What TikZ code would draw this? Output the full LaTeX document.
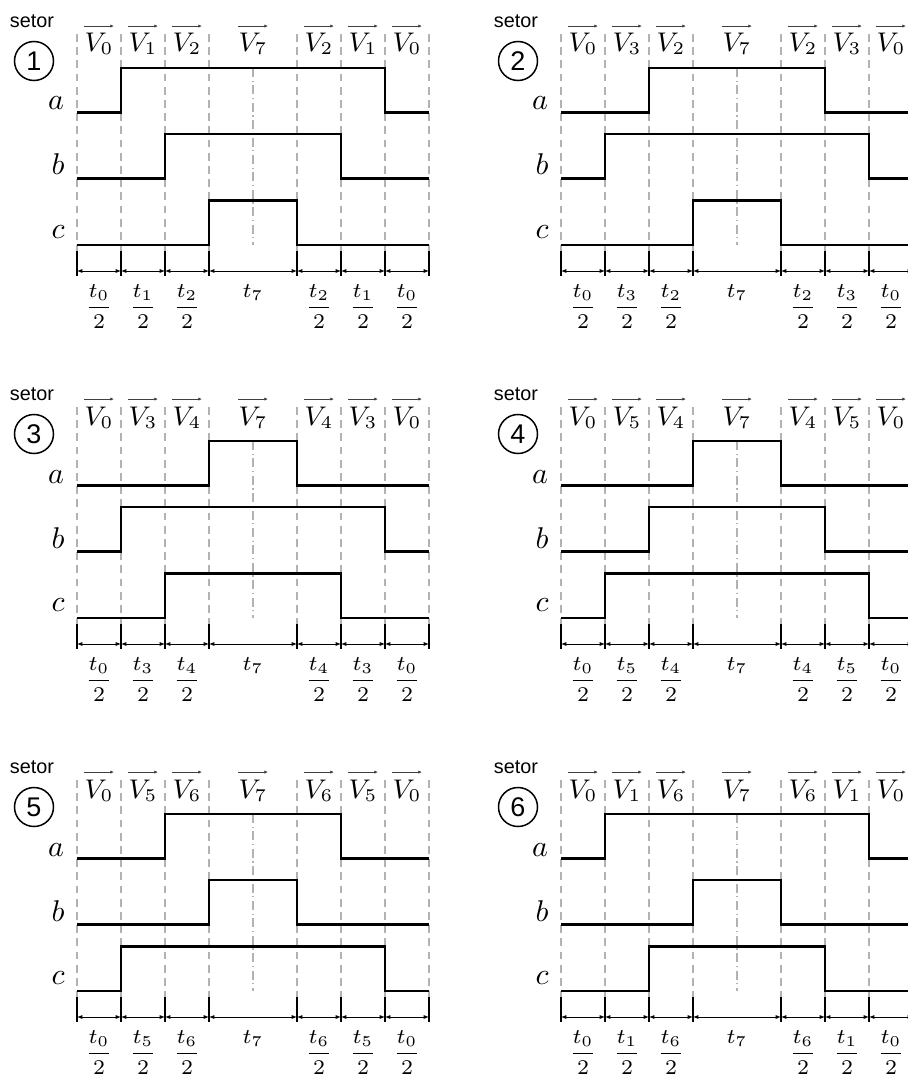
\documentclass[tikz,border=0pt]{standalone}
\usepackage{amsmath}
\usepackage{fontspec}
\newfontfamily\sansf{Liberation Sans}
\usetikzlibrary{arrows.meta}
\tikzset{
 px/.style={x=0.3333pt,y=-0.3333pt},
 sig/.style={line width=0.7pt, line join=miter},
 gridl/.style={black!30, line width=0.35pt, dash pattern=on 2.6pt off 1.8pt},
 midl/.style={black!30, line width=0.35pt, dash pattern=on 3pt off 1.2pt on 0.4pt off 1.2pt},
 tickl/.style={line width=0.45pt},
 diml/.style={line width=0.3pt, {Latex[length=1.8pt,width=1.4pt]}-{Latex[length=1.8pt,width=1.4pt]}},
 lbl/.style={anchor=base, inner sep=0pt},
 vlbl/.style={anchor=base, inner sep=0pt, font=\fontsize{8.8}{10}\selectfont},
 varr/.style={line width=0.35pt, black!75, -{Latex[length=1.2pt,width=1.1pt]}},
 tlbl/.style={anchor=base, inner sep=0pt, font=\fontsize{7.5}{9}\selectfont},
 setorlbl/.style={anchor=base, inner sep=0pt, font=\sansf\fontsize{6.6}{7}\selectfont},
 numcirc/.style={circle, draw, line width=0.5pt, minimum size=13pt, inner sep=0pt, font=\sansf\fontsize{9}{10}\selectfont},
}
% #1 low y, #2 level (1,2,3)
\newcommand{\sigwave}[2]{%
  \draw[sig] (0,#1) -- ({44*#2},#1) -- ({44*#2},{#1-44.5}) -- ({352-44*#2},{#1-44.5}) -- ({352-44*#2},#1) -- (352,#1);}
% #1 x0, #2 y0, #3 sector, #4 a level, #5 b level, #6 c level, #7 first vector, #8 second vector
\newcommand{\sectorpanel}[8]{%
\begin{scope}[shift={(#1,#2)}]
  \foreach \k/\x in {0/0,1/44,2/88,3/132,4/220,5/264,6/308,7/352}{
    \coordinate (s#3g\k t) at (\x,34);
    \coordinate (s#3g\k b) at (\x,251);
    \coordinate (s#3g\k e) at (\x,276);
    \coordinate (s#3g\k d) at (\x,271);
    \draw[gridl] (s#3g\k t) -- (s#3g\k b);
    \draw[tickl] (s#3g\k b) -- (s#3g\k e);
  }
  \coordinate (s#3mt) at (176,68);
  \coordinate (s#3mb) at (176,245);
  \draw[midl] (s#3mt) -- (s#3mb);
  \foreach \k [count=\j] in {0,...,6}{
    \draw[diml] (s#3g\k d) -- (s#3g\j d);
  }
  \sigwave{112.5}{#4}
  \sigwave{178.5}{#5}
  \sigwave{245}{#6}
  \node[setorlbl] (s#3setor) at (-45,27.5) {setor};
  \node[numcirc] (s#3num) at (-43,61) {#3};
  \node[lbl] (s#3la) at (-21,110) {$a$};
  \node[lbl] (s#3lb) at (-19,175) {$b$};
  \node[lbl] (s#3lc) at (-19,238) {$c$};
  \foreach \x/\v in {22/0,66/#7,110/#8,176/7,242/#8,286/#7,330/0}{
    \node[vlbl] (s#3v\x) at (\x,52) {$V_{\v}$};
    \draw[varr] ([yshift=2.3pt]s#3v\x.north west) -- ([yshift=2.3pt]s#3v\x.north east);
  }
  \foreach \x/\v in {22/0,66/#7,110/#8,242/#8,286/#7,330/0}{
    \node[tlbl] (s#3t\x) at (\x,313) {$\dfrac{t_{\v}}{2}$};
  }
  \node[tlbl] (s#3t176) at (176,297) {$t_7$};
\end{scope}}
\begin{document}
\begin{tikzpicture}[px]
  \useasboundingbox (0,0) rectangle (908,1077);
  \clip (0,0) rectangle (908,1077);
  \sectorpanel{77}{0}{1}{1}{2}{3}{1}{2}
  \sectorpanel{561}{0}{2}{2}{1}{3}{3}{2}
  \sectorpanel{77}{373}{3}{3}{1}{2}{3}{4}
  \sectorpanel{561}{373}{4}{3}{2}{1}{5}{4}
  \sectorpanel{77}{746}{5}{2}{3}{1}{5}{6}
  \sectorpanel{561}{746}{6}{1}{3}{2}{1}{6}
\end{tikzpicture}
\end{document}
